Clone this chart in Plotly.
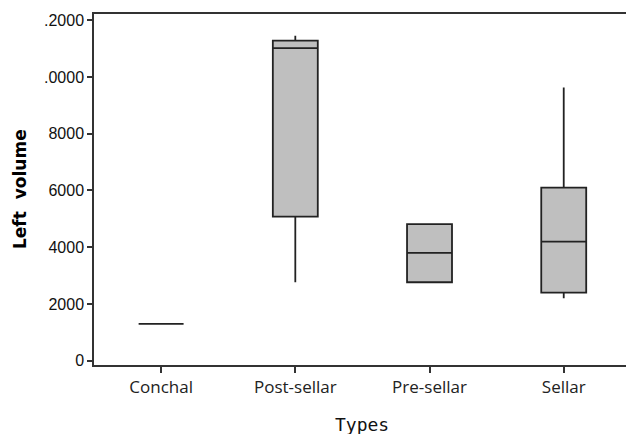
import plotly.graph_objects as go

categories = ["Conchal", "Post-sellar", "Pre-sellar", "Sellar"]
lower_whisker = [1295, 2765, 2765, 2201]
q1_values = [1295, 5079, 2765, 2399]
median_values = [1295, 11019, 3799, 4198]
q3_values = [1295, 11284, 4811, 6102]
upper_whisker = [1295, 11453, 4811, 9630]

y_tick_values = [0, 2000, 4000, 6000, 8000, 10000, 12000]
y_tick_labels = ["0", "2000", "4000", "6000", "8000", ".0000", ".2000"]

fig = go.Figure()
fig.add_trace(go.Box(
    x=categories,
    q1=q1_values,
    median=median_values,
    q3=q3_values,
    lowerfence=lower_whisker,
    upperfence=upper_whisker,
    boxpoints=False,
    width=0.335,
    whiskerwidth=0,
    fillcolor="#bfbfbf",
    line=dict(color="#222222", width=1.8),
    showlegend=False,
    hoverinfo="skip",
))

axis_font = dict(family="Liberation Sans, Arial, sans-serif", size=16, color="#111")

fig.update_layout(
    width=626, height=434,
    margin=dict(l=94, r=0, t=14, b=69),
    paper_bgcolor="white", plot_bgcolor="white",
    xaxis=dict(
        type="category",
        range=[-0.5, 3.464],
        showgrid=False, zeroline=False,
        showline=True, linecolor="#333", linewidth=1.5, mirror=True,
        ticks="outside", ticklen=6, tickwidth=1.5, tickcolor="#333",
        tickfont=dict(family="Open Sans, Noto Sans, sans-serif", size=17, color="#222"),
        automargin=False,
    ),
    yaxis=dict(
        range=[-152, 12219],
        tickvals=y_tick_values, ticktext=y_tick_labels,
        showgrid=False, zeroline=False,
        showline=True, linecolor="#333", linewidth=1.5, mirror=False,
        ticks="outside", ticklen=5, tickwidth=1.5, tickcolor="#333",
        tickfont=axis_font,
        automargin=False,
    ),
    annotations=[
        dict(text="Left  volume", textangle=-90, xref="paper", yref="paper",
             x=(19.5 - 94) / 532, y=0.5, xanchor="center", yanchor="middle",
             showarrow=False,
             font=dict(family="DejaVu Sans, Verdana, sans-serif", size=17, color="#000")),
        dict(text="Types", xref="paper", yref="paper",
             x=(362 - 94) / 532, y=-(424 - 365) / 351, xanchor="center", yanchor="middle",
             showarrow=False,
             font=dict(family="DejaVu Sans Mono, monospace", size=18, color="#111")),
    ],
)
fig.layout.annotations[0].font.weight = "bold"

fig.write_html("out.html", config={"displayModeBar": False},
               post_script="document.body.style.margin='0px';document.body.style.overflow='hidden';")
